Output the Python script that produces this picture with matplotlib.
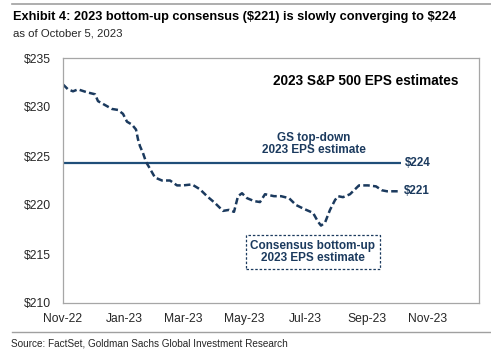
import numpy as np
import pandas as pd
import matplotlib
matplotlib.use('Agg')
import matplotlib.pyplot as plt
import matplotlib.dates as mdates
from matplotlib.lines import Line2D

plt.rcParams['font.family'] = ['Liberation Sans', 'DejaVu Sans']

# Consensus bottom-up 2023 EPS estimate
dates = [
    '2022-11-01', '2022-11-06', '2022-11-11', '2022-11-16', '2022-11-25',
    '2022-12-03', '2022-12-06', '2022-12-13', '2022-12-20', '2022-12-26',
    '2022-12-31', '2023-01-04', '2023-01-09', '2023-01-13', '2023-01-15',
    '2023-01-17', '2023-01-20', '2023-01-23', '2023-01-27', '2023-02-01',
    '2023-02-08', '2023-02-16', '2023-02-23', '2023-03-01', '2023-03-10',
    '2023-03-18', '2023-03-25', '2023-04-02', '2023-04-10', '2023-04-16',
    '2023-04-21', '2023-04-25', '2023-04-29', '2023-05-04', '2023-05-11',
    '2023-05-17', '2023-05-22', '2023-05-31', '2023-06-07', '2023-06-15',
    '2023-06-22', '2023-06-30', '2023-07-09', '2023-07-14', '2023-07-17',
    '2023-07-21', '2023-07-26', '2023-07-31', '2023-08-03', '2023-08-08',
    '2023-08-15', '2023-08-20', '2023-08-24', '2023-09-02', '2023-09-10',
    '2023-09-16', '2023-09-21', '2023-09-30', '2023-10-03',
]
consensus = [
    232.3, 231.8, 231.6, 231.8, 231.5,
    231.3, 230.6, 230.2, 229.8, 229.7,
    229.3, 228.5, 228.2, 227.7, 226.7,
    226.0, 225.3, 224.4, 223.7, 222.8,
    222.5, 222.5, 222.0, 222.0, 222.1,
    221.6, 220.9, 220.2, 219.4, 219.5,
    219.3, 220.9, 221.2, 220.7, 220.4,
    220.3, 221.1, 220.9, 220.9, 220.7,
    220.0, 219.6, 219.2, 218.3, 217.9,
    218.2, 219.5, 220.5, 220.9, 220.8,
    221.1, 221.6, 222.0, 222.0, 221.9,
    221.5, 221.4, 221.4, 221.4,
]

# GS top-down estimate
gs_dates = ['2022-11-01', '2023-10-05']
gs_value = [224.3, 224.3]

y_ticks = [210, 215, 220, 225, 230, 235]
x_ticks = ['2022-11-01', '2023-01-01', '2023-03-01', '2023-05-01',
           '2023-07-01', '2023-09-01', '2023-11-01']

NAVY = '#1b3a5e'
LINE_BLUE = '#1f4e79'
GREY = '#a6a6a6'

fig = plt.figure(figsize=(4.91, 3.59), dpi=100, facecolor='white')
ax = fig.add_axes([63 / 491, 1 - 303 / 359, (479 - 63) / 491, (303 - 58) / 359])

ax.plot(pd.to_datetime(gs_dates), gs_value, color=LINE_BLUE, lw=1.6,
        solid_capstyle='butt')
ax.plot(pd.to_datetime(dates), consensus, color=NAVY, lw=1.8,
        linestyle=(0, (2.6, 1.3)))

ax.set_xlim(pd.Timestamp('2022-11-01'), pd.Timestamp('2023-12-22'))
ax.set_ylim(210, 235)
ax.set_yticks(y_ticks)
ax.set_yticklabels([f'${v}' for v in y_ticks])
ax.set_xticks(pd.to_datetime(x_ticks))
ax.xaxis.set_major_formatter(mdates.DateFormatter('%b-%y'))
ax.tick_params(length=0, labelsize=8.7, colors='#262626')
ax.tick_params(axis='y', pad=9)
ax.tick_params(axis='x', pad=7)
for sp in ax.spines.values():
    sp.set_color(GREY)
    sp.set_linewidth(0.9)

# annotations
ax.text(0.728, 0.907, '2023 S&P 500 EPS estimates', transform=ax.transAxes,
        ha='center', va='center', fontsize=9.8, fontweight='bold', color='black')
ax.text(pd.Timestamp('2023-07-10'), 226.2, 'GS top-down\n2023 EPS estimate',
        ha='center', va='center', fontsize=8.5, fontweight='bold', color=NAVY,
        linespacing=1.0)
ax.text(pd.Timestamp('2023-10-09'), 224.3, '$224', ha='left', va='center',
        fontsize=8.4, fontweight='bold', color=NAVY)
ax.text(pd.Timestamp('2023-10-08'), 221.4, '$221', ha='left', va='center',
        fontsize=8.4, fontweight='bold', color=NAVY)
ax.text(pd.Timestamp('2023-07-09'), 215.2, 'Consensus bottom-up\n2023 EPS estimate',
        ha='center', va='center', fontsize=8.5, fontweight='bold', color=NAVY,
        linespacing=1.0,
        bbox=dict(boxstyle='square,pad=0.4', fc='white', ec=NAVY, lw=0.9,
                  linestyle=(0, (2, 1.5))))

# header / footer
fig.add_artist(Line2D([12 / 491, 1], [1 - 4 / 359, 1 - 4 / 359],
                      color='#a0a0a0', lw=1.2))
fig.text(13 / 491, 1 - 17 / 359,
         'Exhibit 4: 2023 bottom-up consensus (\\$221) is slowly converging to \\$224',
         ha='left', va='center', fontsize=9.2, fontweight='bold', color='black')
fig.text(13 / 491, 1 - 34 / 359, 'as of October 5, 2023', ha='left',
         va='center', fontsize=8.2, color='#262626')
fig.add_artist(Line2D([12 / 491, 1], [1 - 332 / 359, 1 - 332 / 359],
                      color='#a0a0a0', lw=1.0))
fig.text(11 / 491, 1 - 343 / 359,
         'Source: FactSet, Goldman Sachs Global Investment Research',
         ha='left', va='center', fontsize=7.2, color='#262626')

fig.savefig('out.png', dpi=100, facecolor='white')
